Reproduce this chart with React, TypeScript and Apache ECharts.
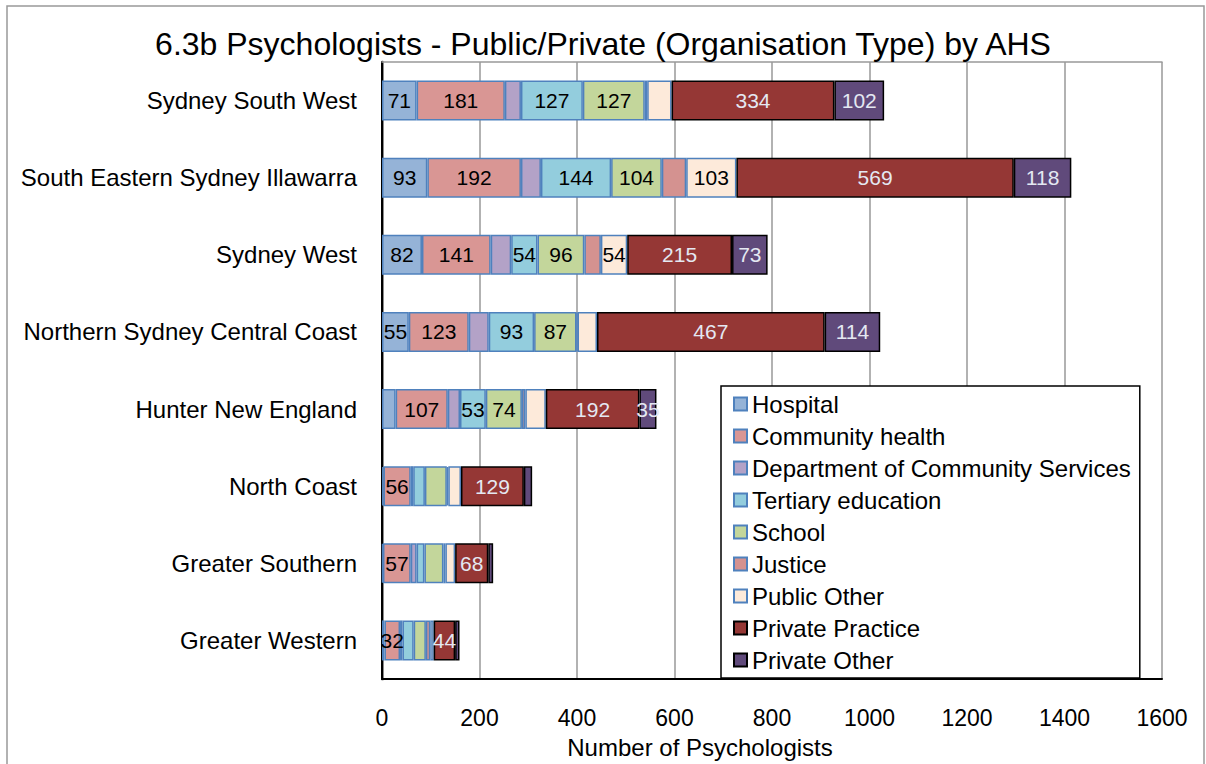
import React, { useEffect, useRef } from "react";
import * as echarts from "echarts";

const categories = [
  "Sydney South West",
  "South Eastern Sydney Illawarra",
  "Sydney West",
  "Northern Sydney Central Coast",
  "Hunter New England",
  "North Coast",
  "Greater Southern",
  "Greater Western",
];

const seriesNames = [
  "Hospital",
  "Community health",
  "Department of Community Services",
  "Tertiary education",
  "School",
  "Justice",
  "Public Other",
  "Private Practice",
  "Private Other",
];

const hospital = [71, 93, 82, 55, 28, 3, 2, 5];
const communityHealth = [181, 192, 141, 123, 107, 56, 57, 32];
const docs = [33, 41, 42, 41, 25, 5, 12, 5];
const tertiary = [127, 144, 54, 93, 53, 24, 16, 23];
const school = [127, 104, 96, 87, 74, 45, 39, 25];
const justice = [5, 50, 34, 2, 7, 3, 4, 9];
const publicOther = [50, 103, 54, 40, 42, 26, 20, 7];
const privatePractice = [334, 569, 215, 467, 192, 129, 68, 44];
const privateOther = [102, 118, 73, 114, 35, 17, 10, 9];

// which segments carry a data label (1 = shown)
const hospitalLabels = [1, 1, 1, 1, 0, 0, 0, 0];
const communityHealthLabels = [1, 1, 1, 1, 1, 1, 1, 1];
const docsLabels = [0, 0, 0, 0, 0, 0, 0, 0];
const tertiaryLabels = [1, 1, 1, 1, 1, 0, 0, 0];
const schoolLabels = [1, 1, 1, 1, 1, 0, 0, 0];
const justiceLabels = [0, 0, 0, 0, 0, 0, 0, 0];
const publicOtherLabels = [0, 1, 1, 0, 0, 0, 0, 0];
const privatePracticeLabels = [1, 1, 1, 1, 1, 1, 1, 1];
const privateOtherLabels = [1, 1, 1, 1, 1, 0, 0, 0];

const xTicks = { min: 0, max: 1600, interval: 200 };

const FONT = "Liberation Sans, Arial, sans-serif";

export default function App() {
  const ref = useRef<HTMLDivElement>(null);

  useEffect(() => {
    document.body.style.margin = "0";
    const chart = echarts.init(ref.current!, null, { renderer: "svg" });

    const values = [
      hospital,
      communityHealth,
      docs,
      tertiary,
      school,
      justice,
      publicOther,
      privatePractice,
      privateOther,
    ];
    const labels = [
      hospitalLabels,
      communityHealthLabels,
      docsLabels,
      tertiaryLabels,
      schoolLabels,
      justiceLabels,
      publicOtherLabels,
      privatePracticeLabels,
      privateOtherLabels,
    ];
    const colors = [
      "#95B3D7",
      "#D99694",
      "#B3A2C7",
      "#93CDDD",
      "#C3D69B",
      "#D49290",
      "#FDEADA",
      "#953735",
      "#604A7B",
    ];
    const isPrivate = [false, false, false, false, false, false, false, true, true];

    const series = seriesNames.map((name, s) => ({
      name,
      type: "bar",
      stack: "total",
      barWidth: 40,
      itemStyle: {
        color: colors[s],
        borderColor: isPrivate[s] ? "#000000" : "#4F81BD",
        borderWidth: 1.5,
      },
      label: {
        position: "inside",
        fontFamily: FONT,
        fontSize: 21,
        color: isPrivate[s] ? "#E4E8F2" : "#000000",
      },
      data: values[s].map((v, i) => ({
        value: v,
        label: { show: labels[s][i] === 1 },
      })),
    }));

    chart.setOption({
      animation: false,
      backgroundColor: "#ffffff",
      textStyle: { fontFamily: FONT },
      title: {
        text: "6.3b Psychologists - Public/Private (Organisation Type) by AHS",
        left: "center",
        top: 23,
        textStyle: {
          fontFamily: FONT,
          fontSize: 32,
          fontWeight: "normal",
          color: "#000000",
        },
      },
      graphic: [
        {
          type: "rect",
          shape: { x: 7, y: 6, width: 1197, height: 800 },
          style: { fill: "none", stroke: "#999999", lineWidth: 1.5 },
          silent: true,
        },
      ],
      legend: {
        orient: "vertical",
        left: 721,
        top: 386,
        padding: [5, 9, 5, 12],
        itemWidth: 13,
        itemHeight: 13,
        itemGap: 6,
        backgroundColor: "#ffffff",
        borderColor: "#000000",
        borderWidth: 1.5,
        borderRadius: 0,
        icon: "rect",
        textStyle: {
          fontFamily: FONT,
          fontSize: 24,
          lineHeight: 26,
          color: "#000000",
        },
        data: seriesNames,
      },
      grid: {
        left: 382,
        right: 44,
        top: 62,
        bottom: 75,
        containLabel: false,
      },
      xAxis: [
        {
          type: "value",
          min: xTicks.min,
          max: xTicks.max,
          interval: xTicks.interval,
          position: "bottom",
          axisLine: { show: true, lineStyle: { color: "#000000", width: 2 } },
          axisTick: { show: false },
          splitLine: { show: true, lineStyle: { color: "#999999", width: 1.5 } },
          axisLabel: {
            fontFamily: FONT,
            fontSize: 23,
            color: "#000000",
            margin: 27,
            formatter: (v: number) => String(v),
          },
          name: "Number of Psychologists",
          nameLocation: "middle",
          nameGap: 56,
          nameTextStyle: {
            fontFamily: FONT,
            fontSize: 24,
            color: "#000000",
            padding: [0, 144, 0, 0],
          },
        },
        {
          type: "value",
          min: xTicks.min,
          max: xTicks.max,
          interval: xTicks.interval,
          position: "top",
          axisLine: { show: true, lineStyle: { color: "#999999", width: 1.5 } },
          axisTick: { show: false },
          axisLabel: { show: false },
          splitLine: { show: false },
        },
      ],
      yAxis: [
        {
          type: "category",
          data: categories,
          inverse: true,
          axisLine: { show: true, lineStyle: { color: "#8C8C8C", width: 3 } },
          axisTick: { show: false },
          axisLabel: {
            fontFamily: FONT,
            fontSize: 24,
            color: "#000000",
            margin: 25,
          },
        },
        {
          type: "category",
          data: categories,
          inverse: true,
          position: "right",
          axisLine: { show: true, lineStyle: { color: "#000000", width: 2 } },
          axisTick: { show: false },
          axisLabel: { show: false },
        },
      ],
      series,
    });

    return () => chart.dispose();
  }, []);

  return <div ref={ref} style={{ width: 1206, height: 764 }} />;
}
